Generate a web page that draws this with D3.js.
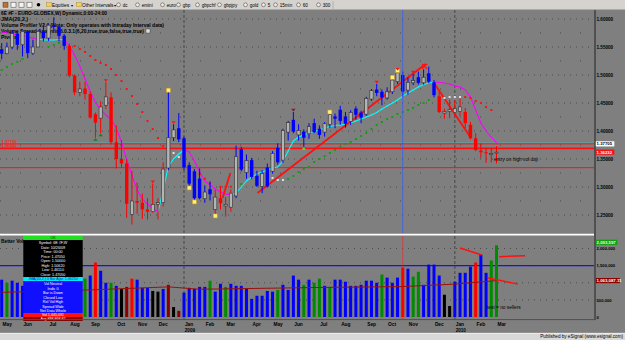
<!DOCTYPE html>
<html><head><meta charset="utf-8">
<script src="https://cdn.jsdelivr.net/npm/d3@7"></script>
<style>
html,body{margin:0;padding:0;background:#7f7f7f;}
svg{display:block;}
</style></head><body>
<svg id="c" width="625" height="340"></svg>
<script>
// ---------------- DATA ----------------
const weeks = d3.timeMonday.range(new Date(2008,4,5), new Date(2010,2,2)); // 96 weekly bars
const opens  = [1.5460,1.5380,1.5500,1.5740,1.5540,1.5780,1.5390,1.5500,1.5780,1.5660,
                1.5890,1.5860,1.5700,1.5520,1.4990,1.4690,1.4760,1.4660,1.4300,1.4230,
                1.4460,1.4600,1.3800,1.3500,1.3420,1.2510,1.2750,1.2720,1.2600,1.2560,
                1.2690,1.2720,1.3340,1.3880,1.4050,1.3870,1.3390,1.3280,1.3150,1.2790,
                1.2960,1.2600,1.2800,1.2660,1.2640,1.2840,1.3680,1.3260,1.3480,1.3200,
                1.3010,1.3350,1.3280,1.3700,1.3480,1.3980,1.4200,1.3930,1.3990,1.3950,
                1.4140,1.4040,1.3980,1.4120,1.4260,1.4380,1.4260,1.4170,1.4400,1.4330,
                1.4300,1.4570,1.4740,1.4700,1.4590,1.4700,1.4880,1.5000,1.4730,1.4860,
                1.4960,1.4860,1.5030,1.4870,1.4620,1.4320,1.4350,1.4330,1.4350,1.4340,
                1.4110,1.3870,1.3650,1.3620,1.3580,1.3620];
const highs  = [1.5570,1.5580,1.5800,1.5780,1.5790,1.5790,1.5630,1.5800,1.5900,1.5900,
                1.6030,1.5880,1.5730,1.5560,1.5010,1.4880,1.4880,1.4700,1.4330,1.4530,
                1.4870,1.4690,1.4100,1.3840,1.3500,1.3290,1.3080,1.2880,1.2800,1.3060,
                1.2800,1.3440,1.4720,1.4120,1.4320,1.3900,1.3440,1.3320,1.3330,1.3030,
                1.3100,1.2950,1.3000,1.2820,1.2960,1.3740,1.3720,1.3580,1.3520,1.3290,
                1.3300,1.3420,1.3640,1.3780,1.4040,1.4180,1.4340,1.4120,1.4030,1.4140,
                1.4220,1.4100,1.4160,1.4330,1.4310,1.4450,1.4340,1.4370,1.4440,1.4360,
                1.4610,1.4750,1.4840,1.4740,1.4780,1.4950,1.5070,1.5062,1.4960,1.5020,
                1.5060,1.5100,1.5150,1.4910,1.4700,1.4400,1.4560,1.4550,1.4580,1.4410,
                1.4160,1.3960,1.3780,1.3700,1.3700,1.3730];
const lows   = [1.5280,1.5370,1.5460,1.5450,1.5330,1.5300,1.5360,1.5500,1.5600,1.5610,
                1.5780,1.5600,1.5450,1.4960,1.4640,1.4620,1.4560,1.4220,1.3880,1.3960,
                1.4390,1.3760,1.3330,1.3350,1.2450,1.2330,1.2520,1.2430,1.2420,1.2540,
                1.2420,1.2650,1.3300,1.3820,1.3800,1.3300,1.3010,1.2760,1.2780,1.2720,
                1.2760,1.2510,1.2600,1.2470,1.2560,1.2800,1.3280,1.3150,1.3140,1.3000,
                1.2890,1.2990,1.3240,1.3400,1.3430,1.3830,1.3960,1.3830,1.3720,1.3860,
                1.3960,1.3860,1.3900,1.4060,1.4050,1.4110,1.4060,1.4110,1.4200,1.4140,
                1.4270,1.4540,1.4620,1.4460,1.4560,1.4660,1.4840,1.4611,1.4650,1.4820,
                1.4830,1.4830,1.4850,1.4600,1.4320,1.4220,1.4230,1.4260,1.4270,1.4050,
                1.3850,1.3640,1.3520,1.3430,1.3440,1.3420];
const closes = [1.5380,1.5500,1.5740,1.5540,1.5780,1.5390,1.5500,1.5780,1.5660,1.5890,
                1.5860,1.5700,1.5520,1.4990,1.4690,1.4750,1.4660,1.4240,1.4150,1.4430,
                1.4610,1.3800,1.3500,1.3420,1.2700,1.2750,1.2720,1.2600,1.2560,1.2690,
                1.2720,1.3320,1.3880,1.4020,1.3850,1.3350,1.3060,1.2800,1.2800,1.2910,
                1.2870,1.2820,1.2710,1.2690,1.2890,1.3540,1.3310,1.3470,1.3180,1.3020,
                1.3240,1.3010,1.3600,1.3440,1.4010,1.4150,1.3990,1.4010,1.3880,1.4080,
                1.3980,1.3930,1.4130,1.4290,1.4220,1.4180,1.4130,1.4330,1.4290,1.4240,
                1.4580,1.4720,1.4680,1.4600,1.4700,1.4910,1.5040,1.4705,1.4870,1.4900,
                1.4860,1.4960,1.4880,1.4640,1.4340,1.4350,1.4380,1.4400,1.4430,1.4140,
                1.3870,1.3660,1.3620,1.3610,1.3600,1.36232];
const barTrend = "bbbbbbbbbb"+"bbbrrrrrrr"+"rrrrrrrrrr"+"rrbbbbbbbb"+"brrrrbbbbb"+
                 "bbbbbbbbbb"+"bbbbbbbbbb"+"bbbbbbbbbb"+"bbbbrrrrrr"+"rrrrrr";
// JMA line (price) and its colour state (m = magenta, c = cyan)
const jma = [1.5768,1.5750,1.5732,1.5714,1.5696,1.5679,1.5661,1.5643,1.5625,1.5625,
             1.5625,1.5634,1.5625,1.5518,1.5352,1.5154,1.4929,1.4705,1.4505,1.4384,
             1.4286,1.4205,1.4054,1.3804,1.3482,1.3214,1.2946,1.2786,1.2696,1.2625,
             1.2554,1.2946,1.3375,1.3500,1.3589,1.3661,1.3625,1.3464,1.3268,1.3107,
             1.3036,1.2964,1.2911,1.2875,1.2857,1.2893,1.3000,1.3107,1.3179,1.3232,
             1.3268,1.3304,1.3339,1.3357,1.3464,1.3643,1.3821,1.3893,1.3929,1.3964,
             1.3991,1.4018,1.4054,1.4080,1.4098,1.4107,1.4125,1.4143,1.4179,1.4214,
             1.4250,1.4286,1.4330,1.4393,1.4446,1.4500,1.4554,1.4625,1.4679,1.4732,
             1.4786,1.4830,1.4857,1.4875,1.4866,1.4857,1.4839,1.4804,1.4786,1.4732,
             1.4607,1.4375,1.4143,1.4000,1.3893,1.3786];
const jmaState = "mmmmmmmmcc"+"cccmmmmmmm"+"mmmmmmmmmm"+"mcccccmmmm"+"mmmmmccccc"+
                 "cccccccccc"+"cccccccccc"+"cccccccccc"+"ccccmmmmmm"+"mmmmmm";
// trailing stop dots
const stopIdx = [0,1,2,3,4,9,10,11,
  14,15,16,17,18,19,20,21,22,23,24,25,26,27,28,29,30,31,
  33,34, 38,39,40,42,43,44, 46, 52,53,54,
  55,56,57,58,59,60,61,62,63,64,65,66,67,68,69,70,71,72,73,74,75,76,77,78,79,80,81,82,
  85,86,87,88, 89,90,91,92,93,94];
const stopVal = [1.5089,1.5143,1.5196,1.5232,1.5286,1.5500,1.5536,1.5571,
  1.5518,1.5464,1.5411,1.5339,1.5268,1.5214,1.5179,1.5107,1.5000,1.4893,1.4750,1.4625,1.4482,1.4339,1.4179,1.4036,1.3875,1.3732,
  1.3607,1.3536, 1.3232,1.3148,1.3066,1.3005,1.3005,1.3005, 1.3054, 1.3161,1.3125,1.3125,
  1.3143,1.3196,1.3268,1.3321,1.3357,1.3446,1.3500,1.3554,1.3607,1.3661,1.3714,1.3768,1.3804,1.3857,1.3911,1.3964,1.4036,1.4107,1.4161,1.4214,1.4250,1.4304,1.4339,1.4375,1.4411,1.4464,1.4500,1.4554,
  1.4589,1.4607,1.4607,1.4607, 1.4607,1.4589,1.4536,1.4500,1.4429,1.4375];
const stopState = "gggggggg"+"rrrrrrrrrrrrrrrrrr"+"ww"+"rrrrrr"+"g"+"www"+
                  "gggggggggggggggggggggggggggg"+"wwww"+"rrrrrr";
// signal markers
const yellowIdx = [32,36,37,41,63,75,76];
const yellowAt  = ["H","L","L","L","H","H","H"];
const downTriIdx = [20,29,33,56,72,76,79];
const upTriIdx   = [18,19,58];
// drawn trend lines [index0, price0, index1, price1]
const trendLines = [[49.1,1.2893,81.4,1.5196],[42.4,1.2804,43.9,1.3250],[83.0,1.4857,90.1,1.3875]];
// horizontal levels
const levels = [1.37705,1.3690,1.3345];
const levelLabels = ["1.37705","1.36900"];
// volume (thousands) and Better Volume colour codes
const volumeK = [1090,1000,1060,1000,910,1100,950,1020,980,1050,
                 1120,960,900,1300,1150,950,1120,1210,1590,1350,
                 1000,1000,910,820,880,1120,1090,850,850,760,
                 740,820,940,290,180,710,850,820,880,880,
                 1060,740,970,880,970,910,910,820,530,620,
                 620,760,740,790,940,790,1210,1090,940,1090,
                 1000,1120,910,880,1090,1090,1030,910,910,940,
                 1060,1060,1000,1240,1150,1000,1150,1445.031,1410,1180,
                 1320,940,1530,1530,1210,650,320,1030,1290,1290,
                 1470,1590,1820,1290,1650,2093.597];
const volState = "bgbbbbbgbb"+"bbbrbggbrb"+"bgbkdrbbbk"+"kbdkdbbbbb"+"gbbgbbbbbb"+
                 "bbbgbbbbgb"+"ggbgbbbbbb"+"bbbgbbbrbg"+"gbbbbkkbbb"+"brbbgg";
const maIdx = [0,17,32,38,60,77,87,95];
const maValK = [720,790,880,810,860,888.86882,960,1063.08711];
const volNoteLines = [[88.0,2015,92.2,1810],[95.5,1760,100.5,1790],[93.4,1140,99.1,960]];
const priceTicks = [1.25,1.30,1.35,1.40,1.45,1.50,1.55,1.60];
const volGrid = [500000,1000000,1500000,2000000];
const volTickLabels = [0,500000,1500000,2000000]; // 1,000,000 hidden behind the average box
const cursorIdx = 77;
const headerLines = ["6E #F - EURO-GLOBEX,W) Dynamic,0:00-24:00","JMA(20,2,)",
  "Volume Profiler V2.4 (Note: Only operates with Intraday Interval data)",
  "Volume Spread Analysis 6.0.3.1(6,20,true,true,false,true,true)","Pivots"];
const toolbarItems = ["dc","emini","euro","gbp","gbpchf","gbpjpy","gold","5","15min","60","300"];
const infoRows = ["Vol Neutral","Indic 0","Bar is Down","Closed Low","Rel Vol High","Spread Wide","Net Data Whole"];

// ---------------- DRAW ----------------
const F = "'Liberation Sans', Arial, sans-serif";
const svg = d3.select("#c").style("font-family", F);
const W = 594;
const xIdx = d3.scaleLinear().domain([0,95]).range([1.7,496.5]);
const yP = d3.scaleLinear().domain([1.25,1.6]).range([215,19]);
const yV = d3.scaleLinear().domain([0,2000000]).range([317,248.5]);
const col = {b:"#0000ff",r:"#ff0000",g:"#008c00",k:"#000000",d:"#8b0000",m:"#ff00ff",c:"#00ffff",w:"#e8e8e8"};

svg.append("rect").attr("width",625).attr("height",340).attr("fill","#7f7f7f");

// toolbar
const tb = svg.append("g");
tb.append("rect").attr("width",625).attr("height",10).attr("fill","#d6d3ce");
tb.append("line").attr("x1",0).attr("x2",625).attr("y1",9.6).attr("y2",9.6).attr("stroke","#9a9a9a").attr("stroke-width",0.8);
[3,11,19,27].forEach((x,k)=>tb.append("rect").attr("x",x).attr("y",2.2).attr("width",5).attr("height",5)
  .attr("fill",k===0?"#c07030":"#f4f4f4").attr("stroke","#404040").attr("stroke-width",0.5));
tb.append("circle").attr("cx",38.5).attr("cy",4.8).attr("r",1.8).attr("fill","#000");
[[46.5,"Equities",52,70.5],[76.5,"Other Intervals",82,113.5]].forEach(([x,t,tx,ax])=>{
  tb.append("rect").attr("x",x).attr("y",2.6).attr("width",5).attr("height",4).attr("fill","#f0d060").attr("stroke","#a08020").attr("stroke-width",0.4);
  tb.append("text").attr("x",tx).attr("y",6.9).attr("font-size",4.8).text(t);
  tb.append("text").attr("x",ax).attr("y",6.9).attr("font-size",4).text("▾");
});
const tbX = [118.5,137.5,162.5,178.5,197.5,219.5,245.5,263.5,275.5,298.5,318.5];
toolbarItems.forEach((t,k)=>{
  tb.append("circle").attr("cx",tbX[k]).attr("cy",4.8).attr("r",1.9).attr("fill","#eee").attr("stroke","#333").attr("stroke-width",0.5);
  tb.append("text").attr("x",tbX[k]+4.2).attr("y",6.9).attr("font-size",4.6).text(t);
});
tb.append("line").attr("x1",333).attr("x2",333).attr("y1",1).attr("y2",9).attr("stroke","#999").attr("stroke-width",0.6);

// ---------- price panel ----------
svg.append("clipPath").attr("id","pc").append("rect").attr("x",0).attr("y",10).attr("width",W).attr("height",223);
const pp = svg.append("g").attr("clip-path","url(#pc)");
priceTicks.forEach(t=>{
  pp.append("line").attr("x1",0).attr("x2",W).attr("y1",yP(t)).attr("y2",yP(t))
    .attr("stroke","#3c3c3c").attr("stroke-width",0.9).attr("stroke-dasharray","0.9,5.1");
  pp.append("line").attr("x1",0).attr("x2",W).attr("y1",yP(t+0.025)).attr("y2",yP(t+0.025))
    .attr("stroke","#3c3c3c").attr("stroke-width",0.9).attr("stroke-dasharray","0.9,19.1");
});
[35,87].forEach(i=>pp.append("line").attr("x1",xIdx(i)).attr("x2",xIdx(i)).attr("y1",10).attr("y2",233)
  .attr("stroke","#383838").attr("stroke-width",0.8).attr("stroke-dasharray","3,2"));
// header study lines
const hdrW = [106,27,163,143,16];
headerLines.forEach((t,k)=>pp.append("text").attr("x",1).attr("y",15.2+k*5.9).attr("font-size",5)
  .attr("font-weight","bold").attr("fill","#000").attr("textLength",hdrW[k]).attr("lengthAdjust","spacingAndGlyphs").text(t));
pp.append("rect").attr("x",146).attr("y",29).attr("width",4).attr("height",4).attr("fill","#ddd").attr("stroke","#333").attr("stroke-width",0.4);
// horizontal level lines
pp.append("line").attr("x1",0).attr("x2",W).attr("y1",yP(levels[0])-0.9).attr("y2",yP(levels[0])-0.9).attr("stroke","#40d0d0").attr("stroke-width",0.5);
levels.forEach((l,k)=>pp.append("line").attr("x1",0).attr("x2",W).attr("y1",yP(l)).attr("y2",yP(l))
  .attr("stroke","#ff1010").attr("stroke-width",k===1?1.6:1));
levelLabels.forEach((t,k)=>pp.append("text").attr("x",1.5).attr("y",yP(levels[k])-1).attr("font-size",4.2)
  .attr("fill","#ff2020").attr("font-weight","bold").text(t));
// JMA line
for(let i=1;i<jma.length;i++){
  pp.append("line").attr("x1",xIdx(i-1)).attr("y1",yP(jma[i-1])).attr("x2",xIdx(i)).attr("y2",yP(jma[i]))
    .attr("stroke",col[jmaState[i]]).attr("stroke-width",1.1).attr("stroke-linecap","round");
}
// trend lines
trendLines.forEach(([i0,p0,i1,p1])=>pp.append("line").attr("x1",xIdx(i0)).attr("y1",yP(p0)).attr("x2",xIdx(i1)).attr("y2",yP(p1))
  .attr("stroke","#ff1010").attr("stroke-width",1.8));
// stop dots
stopIdx.forEach((i,k)=>pp.append("rect").attr("x",xIdx(i)-1).attr("y",yP(stopVal[k])-1).attr("width",2).attr("height",2)
  .attr("fill",stopState[k]==="g"?"#10a010":stopState[k]==="r"?"#ff1010":"#e0e0e0"));
// candles
weeks.forEach((d,i)=>{
  const o=opens[i],h=highs[i],l=lows[i],c=closes[i],tc=col[barTrend[i]];
  const x=xIdx(i);
  pp.append("line").attr("x1",x).attr("x2",x).attr("y1",yP(h)).attr("y2",yP(l)).attr("stroke",tc).attr("stroke-width",1);
  const top=yP(Math.max(o,c)), bh=Math.max(1,yP(Math.min(o,c))-top);
  if(c<o) pp.append("rect").attr("x",x-1.7).attr("y",top).attr("width",3.4).attr("height",bh).attr("fill",tc);
  else pp.append("rect").attr("x",x-1.6).attr("y",top).attr("width",3.2).attr("height",bh).attr("fill","#b4b4b4").attr("stroke","#303030").attr("stroke-width",0.6);
});
// markers
yellowIdx.forEach((i,k)=>{
  const y = yellowAt[k]==="H"? yP(highs[i])-0.5 : yP(lows[i])+1.5;
  pp.append("rect").attr("x",xIdx(i)-2).attr("y",y-2).attr("width",4).attr("height",4).attr("fill","#fff080").attr("stroke","#d0a020").attr("stroke-width",0.6);
});
downTriIdx.forEach(i=>{const x=xIdx(i),y=yP(highs[i])-0.5;
  pp.append("path").attr("d",`M${x-2.2},${y-2.6}L${x+2.2},${y-2.6}L${x},${y}Z`).attr("fill",i===56?"#a01010":"#ff1010");});
upTriIdx.forEach(i=>{const x=xIdx(i),y=yP(lows[i])+0.5;
  pp.append("path").attr("d",`M${x-2.2},${y+2.6}L${x+2.2},${y+2.6}L${x},${y}Z`).attr("fill",i===58?"#30ff30":"#108010");});
{const x=xIdx(81)+1,y=yP(highs[81])-3;
 pp.append("path").attr("d",`M${x-2.5},${y-2.5}L${x+2.5},${y+2.5}M${x-2.5},${y+2.5}L${x+2.5},${y-2.5}`).attr("stroke","#ff1010").attr("stroke-width",1.2);}
// cursor
pp.append("line").attr("x1",xIdx(cursorIdx)).attr("x2",xIdx(cursorIdx)).attr("y1",10).attr("y2",233).attr("stroke","#3060ff").attr("stroke-width",0.8);
pp.append("text").attr("x",494).attr("y",161).attr("font-size",4.8).attr("fill","#000").text("entry on high vol doji");

// separator
svg.append("line").attr("x1",0).attr("x2",W).attr("y1",234.6).attr("y2",234.6).attr("stroke","#ffffff").attr("stroke-width",1.6);

// ---------- volume panel ----------
const vp = svg.append("g");
volGrid.forEach(t=>vp.append("line").attr("x1",0).attr("x2",W).attr("y1",yV(t)).attr("y2",yV(t))
  .attr("stroke","#3c3c3c").attr("stroke-width",0.9).attr("stroke-dasharray","0.9,5.1"));
[35,87].forEach(i=>vp.append("line").attr("x1",xIdx(i)).attr("x2",xIdx(i)).attr("y1",236).attr("y2",319)
  .attr("stroke","#383838").attr("stroke-width",0.8).attr("stroke-dasharray","3,2"));
vp.append("text").attr("x",1).attr("y",242.6).attr("font-size",4.8).attr("font-weight","bold").text("Better Volume 1.5");
vp.append("line").attr("x1",0).attr("x2",W).attr("y1",yV(1500000)).attr("y2",yV(1500000)).attr("stroke","#1010ff").attr("stroke-width",1.2);
vp.append("line").attr("x1",xIdx(cursorIdx)).attr("x2",xIdx(cursorIdx)).attr("y1",236).attr("y2",319).attr("stroke","#ff2020").attr("stroke-width",0.6);
volumeK.forEach((v,i)=>vp.append("rect").attr("x",xIdx(i)-1.5).attr("y",yV(v*1000)).attr("width",3)
  .attr("height",yV(0)-yV(v*1000)).attr("fill",col[volState[i]]));
const maLine = d3.line().x(d=>xIdx(d[0])).y(d=>yV(d[1]*1000));
vp.append("path").attr("d",maLine(maIdx.map((d,k)=>[d,maValK[k]]))).attr("fill","none").attr("stroke","#9a1010").attr("stroke-width",1);
volNoteLines.forEach(([i0,v0,i1,v1])=>vp.append("line").attr("x1",xIdx(i0)).attr("y1",yV(v0*1000)).attr("x2",xIdx(i1)).attr("y2",yV(v1*1000))
  .attr("stroke","#ff1010").attr("stroke-width",1.5));
vp.append("text").attr("x",487).attr("y",308.5).attr("font-size",4.8).attr("fill","#000").text("test = no sellers");

// info (data window) box
const ib = vp.append("g");
const bx=23.3,bw=59.4,cx=bx+bw/2;
const fmt5 = d3.format(".5f");
const blackRows = ["Symbol: 6E #F,W","Date: "+d3.timeFormat("%m/%d/%y")(weeks[cursorIdx]),"Time: 00:00",
  "Price: "+fmt5(closes[cursorIdx]),"Open: "+fmt5(opens[cursorIdx]),"High: "+fmt5(highs[cursorIdx]),
  "Low: "+fmt5(lows[cursorIdx]),"Close: "+fmt5(closes[cursorIdx])];
ib.append("rect").attr("x",bx).attr("y",236).attr("width",bw).attr("height",4).attr("fill","#20e020");
ib.append("text").attr("x",cx).attr("y",239.3).attr("font-size",3.6).attr("text-anchor","middle").attr("fill","#004000").text("OK");
ib.append("rect").attr("x",bx).attr("y",240).attr("width",bw).attr("height",37).attr("fill","#000");
blackRows.forEach((t,k)=>ib.append("text").attr("x",cx).attr("y",244+k*4.55).attr("font-size",3.7).attr("text-anchor","middle").attr("fill","#fff").text(t));
ib.append("rect").attr("x",bx).attr("y",277).attr("width",bw).attr("height",4).attr("fill","#00e8ff");
ib.append("text").attr("x",cx).attr("y",280.3).attr("font-size",3.6).attr("text-anchor","middle").attr("fill","#0020a0").text("JMA(20,2,) 0 Bar Ago: "+fmt5(jma[cursorIdx]));
ib.append("rect").attr("x",bx).attr("y",281).attr("width",bw).attr("height",32).attr("fill","#1010ff");
infoRows.forEach((t,k)=>ib.append("text").attr("x",cx).attr("y",285+k*4.5).attr("font-size",3.7).attr("text-anchor","middle").attr("fill","#fff").text(t));
ib.append("rect").attr("x",bx).attr("y",313).attr("width",bw).attr("height",4).attr("fill","#ff1010");
ib.append("text").attr("x",cx).attr("y",316.3).attr("font-size",3.6).attr("text-anchor","middle").attr("fill","#fff").text("Vol "+d3.format(",.0f")(volumeK[cursorIdx]*1000));
ib.append("rect").attr("x",bx).attr("y",317).attr("width",bw).attr("height",4).attr("fill","#8b0000");
ib.append("text").attr("x",cx).attr("y",320.3).attr("font-size",3.6).attr("text-anchor","middle").attr("fill","#fff").text("Avg "+d3.format(",.2f")(maValK[5]*1000));

// panel borders
svg.append("line").attr("x1",595).attr("x2",595).attr("y1",10).attr("y2",320).attr("stroke","#505050").attr("stroke-width",2);
svg.append("line").attr("x1",0).attr("x2",596).attr("y1",319.6).attr("y2",319.6).attr("stroke","#505050").attr("stroke-width",1);

// ---------- axes ----------
const pa = svg.append("g").attr("transform","translate(596.5,0)")
  .call(d3.axisRight(yP).tickValues(priceTicks).tickFormat(d3.format(".5f")).tickSize(0).tickPadding(0));
pa.select(".domain").remove();
pa.selectAll("text").attr("font-size",4.6).attr("font-weight","bold").attr("fill","#000").attr("font-family",F);
const va = svg.append("g").attr("transform","translate(596.5,0)")
  .call(d3.axisRight(yV).tickValues(volTickLabels).tickFormat(d3.format(",")).tickSize(0).tickPadding(0));
va.select(".domain").remove();
va.selectAll("text").attr("font-size",4.2).attr("font-weight","bold").attr("fill","#000").attr("font-family",F);
// value boxes
function valBox(y,w,fill,tcol,txt){
  svg.append("rect").attr("x",595.8).attr("y",y-2.6).attr("width",w).attr("height",5.2).attr("fill",fill);
  svg.append("text").attr("x",596.6).attr("y",y+1.6).attr("font-size",4.3).attr("font-weight","bold").attr("fill",tcol).text(txt);
}
valBox(yP(levels[0]),18.5,"#ffffff","#000",d3.format(".5f")(levels[0]));
valBox(yP(closes[95]),18.5,"#ff1010","#fff",d3.format(".5f")(closes[95]));
valBox(yV(volumeK[95]*1000)-3,21.5,"#10a010","#e0ffe0",d3.format(",.0f")(volumeK[95]*1000));
valBox(yV(maValK[7]*1000),24,"#8b0000","#fff",d3.format(",.2f")(maValK[7]*1000));

// x axis
const monthStarts = weeks.map((d,i)=>i).filter(i=>i===0||weeks[i].getMonth()!==weeks[i-1].getMonth());
const xa = svg.append("g").attr("transform","translate(0,320)")
  .call(d3.axisBottom(xIdx).tickValues(monthStarts).tickFormat(i=>d3.timeFormat("%b")(weeks[i])).tickSize(0).tickPadding(0));
xa.select(".domain").remove();
xa.selectAll("text").attr("text-anchor","start").attr("dx",0.4).attr("y",2.2).attr("font-size",4.8)
  .attr("font-weight","bold").attr("fill","#000").attr("font-family",F);
monthStarts.filter(i=>weeks[i].getMonth()===0).forEach(i=>svg.append("text").attr("x",xIdx(i)+0.8).attr("y",332.3)
  .attr("font-size",4.6).attr("font-weight","bold").text(d3.timeFormat("%Y")(weeks[i])));

// footer
svg.append("rect").attr("x",0).attr("y",333).attr("width",625).attr("height",7).attr("fill","#d8d8d8");
svg.append("line").attr("x1",0).attr("x2",625).attr("y1",333.3).attr("y2",333.3).attr("stroke","#f4f4f4").attr("stroke-width",0.8);
svg.append("text").attr("x",623).attr("y",338.4).attr("font-size",4.6).attr("text-anchor","end").text("Published by eSignal (www.esignal.com)");
</script>
</body></html>
